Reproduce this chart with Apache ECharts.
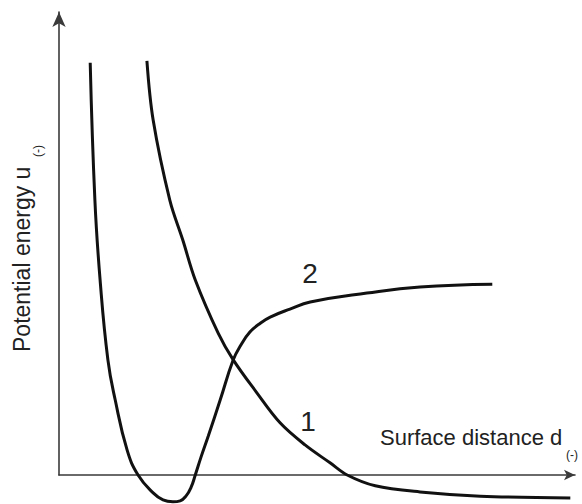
<!DOCTYPE html>
<html>
<head>
<meta charset="utf-8">
<script src="https://cdn.jsdelivr.net/npm/echarts@6/dist/echarts.min.js"></script>
<style>
  html, body { margin: 0; padding: 0; background: #fff; }
  #chart { width: 582px; height: 504px; }
</style>
</head>
<body>
<div id="chart"></div>
<script>
// curve 1: repulsive-only potential, decays below zero
const curve1X = [1.69, 1.81, 2.13, 2.38, 2.62, 3.06, 3.35, 3.79, 4.25, 4.73, 5.21, 5.54, 6.08, 6.94, 8.10, 9.83];
const curve1Y = [8.81, 7.55, 5.85, 5.00, 4.15, 3.02, 2.45, 1.77, 1.11, 0.64, 0.26, 0.00, -0.23, -0.36, -0.45, -0.49];

// curve 2: potential well then plateau
const curve2X = [0.60, 0.69, 0.79, 0.94, 1.08, 1.31, 1.52, 1.81, 2.00, 2.19, 2.33, 2.44, 2.54, 2.62, 2.73, 2.87, 3.10, 3.35, 3.50, 3.67, 3.87, 4.06, 4.44, 4.83, 5.92, 6.94, 8.33];
const curve2Y = [8.77, 5.85, 4.15, 2.45, 1.60, 0.53, 0.00, -0.38, -0.53, -0.57, -0.55, -0.45, -0.26, 0.00, 0.38, 0.83, 1.60, 2.45, 2.77, 3.04, 3.23, 3.36, 3.53, 3.68, 3.87, 4.00, 4.06];

const zip = (xs, ys) => xs.map((x, i) => [x, ys[i]]);

const chart = echarts.init(document.getElementById('chart'), null, { renderer: 'svg' });

const axisLine = (size) => ({
  show: true,
  symbol: ['none', 'arrow'],
  symbolSize: size,
  lineStyle: { color: '#3a3a3a', width: 1.6 }
});

const font = 'Liberation Sans, Arial, sans-serif';
const txtColor = '#222';

const option = {
  animation: false,
  grid: { left: 59, right: 7, top: 12, bottom: 29 },
  xAxis: {
    type: 'value',
    min: 0,
    max: 9.92,
    axisLine: axisLine([8, 11]),
    axisTick: { show: false },
    axisLabel: { show: false },
    splitLine: { show: false }
  },
  yAxis: {
    type: 'value',
    min: 0,
    max: 9.85,
    axisLine: axisLine([10, 15]),
    axisTick: { show: false },
    axisLabel: { show: false },
    splitLine: { show: false }
  },
  series: [
    {
      name: '1',
      type: 'line',
      data: zip(curve1X, curve1Y),
      smooth: 0.35,
      showSymbol: false,
      clip: false,
      lineStyle: { color: '#111', width: 3 }
    },
    {
      name: '2',
      type: 'line',
      data: zip(curve2X, curve2Y),
      smooth: 0.45,
      showSymbol: false,
      clip: false,
      lineStyle: { color: '#111', width: 3 }
    }
  ],
  graphic: [
    {
      type: 'text', x: 22, y: 352, rotation: Math.PI / 2,
      style: { text: 'Potential energy u', font: '23px ' + font, fill: txtColor, align: 'left', verticalAlign: 'middle' }
    },
    {
      type: 'text', x: 38, y: 157, rotation: Math.PI / 2,
      style: { text: '(-)', font: '12px ' + font, fill: txtColor, align: 'left', verticalAlign: 'middle' }
    },
    {
      type: 'text', x: 380, y: 437,
      style: { text: 'Surface distance d', font: '22px ' + font, fill: txtColor, align: 'left', verticalAlign: 'middle' }
    },
    {
      type: 'text', x: 566, y: 455,
      style: { text: '(-)', font: '12px ' + font, fill: txtColor, align: 'left', verticalAlign: 'middle' }
    },
    {
      type: 'text', x: 308, y: 421,
      style: { text: '1', font: '28px ' + font, fill: txtColor, align: 'center', verticalAlign: 'middle' }
    },
    {
      type: 'text', x: 310, y: 273,
      style: { text: '2', font: '28px ' + font, fill: txtColor, align: 'center', verticalAlign: 'middle' }
    }
  ]
};

chart.setOption(option);
</script>
</body>
</html>
